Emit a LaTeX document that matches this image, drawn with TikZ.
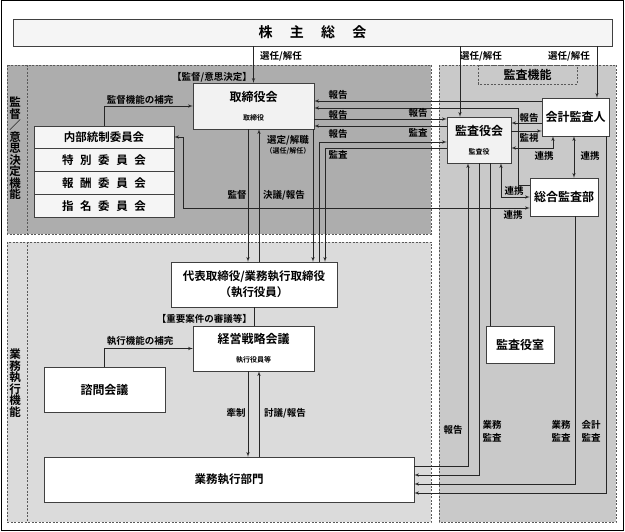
\documentclass[tikz,border=0pt]{standalone}
\usepackage{fontspec}
\setmainfont{Noto Sans CJK JP}[BoldFont={Noto Sans CJK JP Bold}]
\usepackage{tikz}
\usepgflibrary{arrows}
\usetikzlibrary{arrows.meta}
\usetikzlibrary{positioning}

\newcommand{\fsz}[1]{\fontsize{#1}{#1}\selectfont\bfseries}
\newcommand{\spreadtext}[2]{\makebox[#1][s]{#2}}

\begin{document}
\begin{tikzpicture}[x=1pt,y=-1pt]
	\tikzset{box/.style = {shape=rectangle,draw=black!75,fill=white,inner sep=0pt,
			align=center,font=\fsz{12}}}
	\tikzset{combox/.style = {box,fill=black!4,minimum width=140,minimum height=22.5,
			font=\fsz{11.5}}}
	\tikzset{edge/.style = {->,> = latex',black!85,line width=0.6pt}}
	\tikzset{edgebi/.style = {<->,> = latex',black!85,line width=0.6pt}}
	\tikzset{plain/.style = {black!85,line width=0.6pt}}
	\tikzset{panel/.style = {draw=black!65,dash pattern=on 2pt off 1.5pt,line width=0.6pt}}
	\tikzset{lbl/.style = {inner sep=0pt,font=\fsz{9.5}}}
	\tikzset{vlbl/.style = {inner sep=0pt,align=center,
			font=\fontsize{11.5}{11.5}\selectfont\bfseries}}
	
	\useasboundingbox (0,0) rectangle (625,532);
	\draw[black,line width=1pt] (1,1) rectangle (623,530);
	
	% panels
	\draw[panel,fill=black!32] (7,65) rectangle (431,234);
	\draw[panel] (27,65) -- (27,234);
	\draw[panel,fill=black!14] (7,242) rectangle (431,522);
	\draw[panel] (27,242) -- (27,522);
	\draw[panel,fill=black!21] (439,65) rectangle (616,522);
	\draw[panel] (478,65) rectangle (577,84);
	\node[vlbl] (lbKantokuKino) at (15,148.5) {監\\督\\／\\意\\思\\決\\定\\機\\能};
	\node[vlbl] (lbGyomuKino) at (15,383) {業\\務\\執\\行\\機\\能};
	\node[lbl,font=\fsz{12}] (lbKansaKino) at (527.5,75) {監査機能};
	
	% vertices
	\node[box,fill=black!4,minimum width=599,minimum height=27,font=\fsz{14}] (soukai)
		at (312.5,32.5) {\spreadtext{108pt}{株\hfil 主\hfil 総\hfil 会}};
	\node[box,fill=black!5,minimum width=121,minimum height=46] (tori)
		at (253.5,106) {取締役会\\[7pt]{\fsz{7}取締役}};
	\node[combox] (naibu) at (104,137) {内部統制委員会};
	\node[combox,below=0pt of naibu] (tokubetsu)
		{\spreadtext{84pt}{特\hfil 別\hfil 委\hfil 員\hfil 会}};
	\node[combox,below=0pt of tokubetsu] (hoshu)
		{\spreadtext{84pt}{報\hfil 酬\hfil 委\hfil 員\hfil 会}};
	\node[combox,below=0pt of hoshu] (shimei)
		{\spreadtext{84pt}{指\hfil 名\hfil 委\hfil 員\hfil 会}};
	\node[box,minimum width=166,minimum height=45,font=\fsz{11.5}] (daihyo)
		at (254,284.5) {代表取締役/業務執行取締役\\[3.5pt]（執行役員）};
	\node[box,minimum width=121,minimum height=45] (keiei)
		at (253.5,348.5) {経営戦略会議\\[7pt]{\fsz{7}執行役員等}};
	\node[box,minimum width=121,minimum height=45] (shimon) at (104.5,389.5) {諮問会議};
	\node[box,minimum width=370,minimum height=45,font=\fsz{11.5}] (gyomu)
		at (229,479.5) {業務執行部門};
	\node[box,fill=black!5,minimum width=64,minimum height=46] (kansa)
		at (479,140) {監査役会\\[7pt]{\fsz{7}監査役}};
	\node[box,minimum width=67,minimum height=38] (kaikei) at (575.5,117) {会計監査人};
	\node[box,minimum width=68,minimum height=38] (sogo) at (564,197) {総合監査部};
	\node[box,minimum width=68,minimum height=37] (kansashitsu) at (520,344.5) {監査役室};
	
	%edges
	\draw[edge] (tori.north |- soukai.south) -- (tori.north);
	\draw[edge] (460,0 |- soukai.south) -- (460,0 |- kansa.north);
	\draw[edge] (597,0 |- soukai.south) -- (597,0 |- kaikei.north);
	\draw[edge] (naibu.north) |- (tori.west);
	\draw[edgebi] (sogo.west |- 0,208) -| (183,137) -- (naibu.east);
	\draw[edge] (248,0 |- tori.south) -- (248,0 |- daihyo.north);
	\draw[edge] (259,0 |- daihyo.north) -- (259,0 |- tori.south);
	\draw[edge] (313,0 |- tori.south) -- (313,0 |- daihyo.north);
	\draw[edge] (kaikei.west |- 0,101) -- (tori.east |- 0,101);
	\draw[edge] (sogo.west |- 0,185) -| (518,108) -- (tori.east |- 0,108);
	\draw[edge] (tori.east |- 0,119) -- (kansa.west |- 0,119);
	\draw[edge] (kansa.west |- 0,126) -- (tori.east |- 0,126);
	\draw[edge] (319,0 |- daihyo.north) |- (kansa.west |- 0,142);
	\draw[edge] (kansa.west |- 0,148) -| (325,0 |- daihyo.north);
	\draw[plain] (daihyo.south) -- (daihyo.south |- keiei.north);
	\draw[edge] (shimon.north) |- (keiei.west);
	\draw[edge] (248,0 |- keiei.south) -- (248,0 |- gyomu.north);
	\draw[edge] (259,0 |- gyomu.north) -- (259,0 |- keiei.south);
	\draw[edge] (kaikei.west |- 0,123) -- (kansa.east |- 0,123);
	\draw[edge] (kansa.east |- 0,131) -- (kaikei.west |- 0,131);
	\draw[edgebi] (kansa.east |- 0,148) -| (553,0 |- kaikei.south);
	\draw[edgebi] (574,0 |- kaikei.south) -- (574,0 |- sogo.north);
	\draw[edgebi] (501,0 |- kansa.south) |- (sogo.west);
	\draw[edge] (gyomu.east |- 0,466) -| (468,0 |- kansa.south);
	\draw[edge] (479,0 |- kansa.south) |- (gyomu.east |- 0,475);
	\draw[plain] (490,0 |- kansa.south) -- (490,0 |- kansashitsu.north);
	\draw[edge] (575,0 |- sogo.south) |- (gyomu.east |- 0,484);
	\draw[edge] (606,0 |- kaikei.south) |- (gyomu.east |- 0,493);
	
	% labels
	\node[lbl] (lbSenA) at (281,56) {選任/解任};
	\node[lbl] (lbSenB) at (481,56) {選任/解任};
	\node[lbl] (lbSenC) at (569,56) {選任/解任};
	\node[lbl,anchor=east] (lbKantoku) at (252,77) {【監督/意思決定】};
	\node[lbl] (lbHokanA) at (140,100) {監督機能の補完};
	\node[lbl] (lbKantokuA) at (237,195) {監督};
	\node[lbl] (lbKetsugi) at (284,195) {決議/報告};
	\node[lbl] (lbSentei) at (288,140) {選定/解職};
	\node[lbl,font=\fsz{7}] (lbSennin) at (288,151) {（選任/解任）};
	\node[lbl] (lbHokokuA) at (338,95) {報告};
	\node[lbl] (lbHokokuB) at (338,115) {報告};
	\node[lbl] (lbHokokuC) at (418,113) {報告};
	\node[lbl] (lbKansaA) at (418,133) {監査};
	\node[lbl] (lbHokokuD) at (338,134) {報告};
	\node[lbl] (lbKansaB) at (338,155) {監査};
	\node[lbl] (lbRenkeiA) at (513,215) {連携};
	\node[lbl,anchor=east] (lbJuyo) at (252,319) {【重要案件の審議等】};
	\node[lbl] (lbHokanB) at (140,341) {執行機能の補完};
	\node[lbl] (lbKensei) at (236,413) {牽制};
	\node[lbl] (lbTogi) at (285,413) {討議/報告};
	\node[lbl] (lbHokokuE) at (529,118) {報告};
	\node[lbl] (lbKanshi) at (529,138) {監視};
	\node[lbl] (lbRenkeiB) at (544,156) {連携};
	\node[lbl] (lbRenkeiC) at (590,156) {連携};
	\node[lbl] (lbRenkeiD) at (514,191) {連携};
	\node[lbl] (lbHokokuF) at (453,430) {報告};
	\node[lbl,align=center] (lbGyomuA) at (492,431) {業務\\[3.5pt]監査};
	\node[lbl,align=center] (lbGyomuB) at (561,431) {業務\\[3.5pt]監査};
	\node[lbl,align=center] (lbKaikei) at (591,431) {会計\\[3.5pt]監査};
\end{tikzpicture}
\end{document}
